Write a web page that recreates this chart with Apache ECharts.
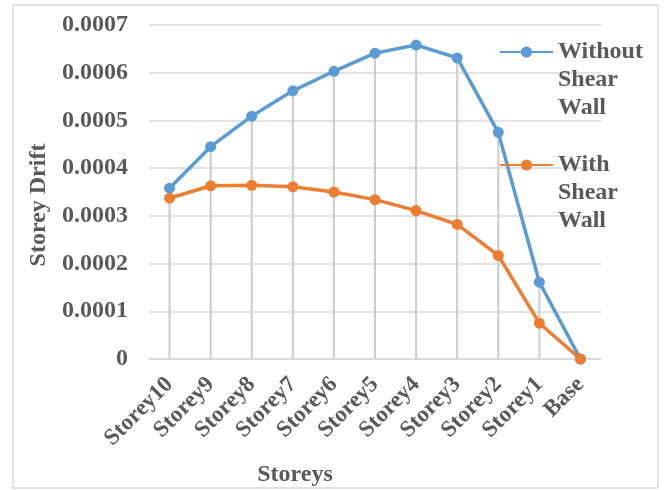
<!DOCTYPE html>
<html>
<head>
<meta charset="utf-8">
<script src="https://cdn.jsdelivr.net/npm/echarts@6/dist/echarts.min.js"></script>
<style>
  html, body { margin: 0; padding: 0; background: #fff; }
  #chart { width: 664px; height: 490px; }
</style>
</head>
<body>
<div id="chart"></div>
<script>
// 横轴
let storeys = ['Storey10', 'Storey9', 'Storey8', 'Storey7', 'Storey6', 'Storey5', 'Storey4', 'Storey3', 'Storey2', 'Storey1', 'Base']
// 纵轴
let withoutShearWall = [0.000358, 0.000445, 0.000509, 0.000562, 0.000603, 0.000641, 0.000658, 0.000631, 0.000475, 0.000161, 0]
let withShearWall = [0.000337, 0.000363, 0.000364, 0.000361, 0.000350, 0.000334, 0.000311, 0.000282, 0.000217, 0.000075, 0]
let yTicks = [0, 0.0001, 0.0002, 0.0003, 0.0004, 0.0005, 0.0006, 0.0007]

// drop lines go from the higher point down to the axis
let dropLines = withoutShearWall.map((v, i) => Math.max(v, withShearWall[i]))

const textColor = '#595959'
const fontFamily = '"Liberation Serif", "Times New Roman", serif'

let chart = echarts.init(document.getElementById('chart'))

function legendItem(name, top) {
  return {
    data: [name],
    orient: 'vertical',
    left: 499,
    top: top,
    padding: 0,
    itemWidth: 53,
    itemHeight: 14,
    selectedMode: false,
    // two empty lines first so the icon sits on the first word
    formatter: n => '\n\n' + n.split(' ').join('\n'),
    textStyle: {
      color: textColor,
      fontFamily: fontFamily,
      fontWeight: 'bold',
      fontSize: 24,
      lineHeight: 28
    }
  }
}

chart.setOption({
  animation: false,
  color: ['#5B9BD5', '#ED7D31'],
  graphic: [{
    type: 'rect',
    shape: { x: 13, y: 5, width: 645, height: 483 },
    style: { fill: 'none', stroke: '#d9d9d9', lineWidth: 1.5 },
    silent: true
  }],
  legend: [
    legendItem('Without Shear Wall', -18),
    legendItem('With Shear Wall', 95)
  ],
  grid: { left: 149, right: 63, top: 25, bottom: 131, outerBoundsMode: 'none' },
  xAxis: {
    type: 'category',
    data: storeys,
    boundaryGap: true,
    name: 'Storeys',
    nameLocation: 'middle',
    nameGap: 104,
    nameTextStyle: {
      color: textColor,
      fontFamily: fontFamily,
      fontWeight: 'bold',
      fontSize: 24,
      padding: [0, 160, 0, 0]
    },
    axisLine: { lineStyle: { color: '#d9d9d9', width: 1.5 } },
    axisTick: { show: false },
    splitLine: { show: false },
    axisLabel: {
      rotate: 45,
      margin: 22,
      interval: 0,
      color: textColor,
      fontFamily: fontFamily,
      fontWeight: 'bold',
      fontSize: 23
    }
  },
  yAxis: {
    type: 'value',
    min: 0,
    max: 0.0007,
    interval: 0.0001,
    name: 'Storey Drift',
    nameLocation: 'middle',
    nameGap: 97,
    nameTextStyle: {
      color: textColor,
      fontFamily: fontFamily,
      fontWeight: 'bold',
      fontSize: 24,
      padding: [0, 26, 0, 0]
    },
    axisLine: { show: false },
    axisTick: { show: false },
    splitLine: { lineStyle: { color: '#d9d9d9', width: 1.5 } },
    axisLabel: {
      margin: 21,
      color: textColor,
      fontFamily: fontFamily,
      fontWeight: 'bold',
      fontSize: 24,
      formatter: v => {
        let hit = yTicks.find(t => Math.abs(t - v) < 1e-9)
        return hit === 0 ? '0' : hit.toFixed(4)
      }
    }
  },
  series: [
    {
      name: 'drop',
      type: 'bar',
      data: dropLines,
      barWidth: 2,
      barGap: '-100%',
      itemStyle: { color: '#cccccc' },
      silent: true,
      z: 1
    },
    {
      name: 'Without Shear Wall',
      type: 'line',
      data: withoutShearWall,
      symbol: 'circle',
      symbolSize: 11,
      lineStyle: { width: 3.5 },
      z: 3
    },
    {
      name: 'With Shear Wall',
      type: 'line',
      data: withShearWall,
      symbol: 'circle',
      symbolSize: 11,
      lineStyle: { width: 3.5 },
      z: 4
    }
  ]
})
window.addEventListener('resize', () => { chart.resize() })
</script>
</body>
</html>
